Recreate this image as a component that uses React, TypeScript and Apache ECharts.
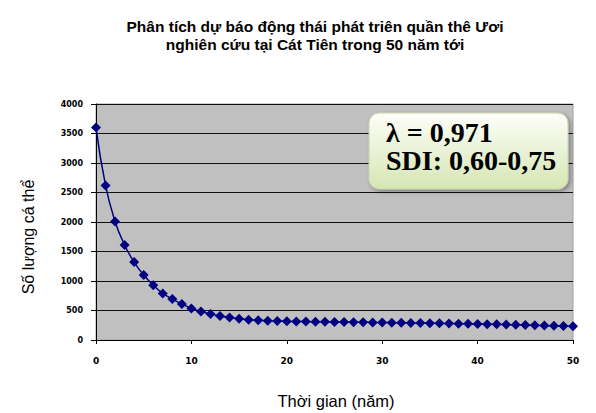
import React, { useEffect, useRef } from "react";
import * as echarts from "echarts";

const years: number[] = Array.from({ length: 51 }, (_, i) => i);
const population: number[] = [
  3600, 2620, 2010, 1610, 1320, 1100, 930, 790, 695, 610,
  535, 482, 440, 408, 380, 360, 345, 335, 327, 320,
  316, 314, 312, 310, 308, 306, 304, 302, 300, 298,
  296, 294, 292, 290, 288, 286, 283, 280, 277, 274,
  271, 268, 265, 261, 257, 253, 249, 245, 241, 237,
  233,
];
const titleLines: string[] = [
  "Phân tích dự báo động thái phát triên quần thê Ươi",
  "nghiên cứu tại Cát Tiên trong 50 năm tới",
];
const xAxisName = "Thời gian (năm)";
const yAxisName = "Số lượng cá thể";
const noteLines: string[] = ["λ = 0,971", "SDI: 0,60-0,75"];

export default function App() {
  const ref = useRef<HTMLDivElement>(null);
  useEffect(() => {
    if (!ref.current) return;
    const chart = echarts.init(ref.current, null, { renderer: "svg" });
    chart.setOption({
      animation: false,
      backgroundColor: "#ffffff",
      grid: {
        left: 96,
        right: 23,
        top: 104,
        bottom: 73,
        show: true,
        backgroundColor: "#c0c0c0",
        borderColor: "#a0a0a0",
        borderWidth: 1,
      },
      xAxis: {
        type: "value",
        min: 0,
        max: 50,
        interval: 10,
        axisLine: { show: true, onZero: false, lineStyle: { color: "#000", width: 1 } },
        axisTick: { show: true, length: 4, lineStyle: { color: "#000" } },
        splitLine: { show: false },
        axisLabel: {
          color: "#000",
          fontFamily: "DejaVu Sans",
          fontWeight: "bold",
          fontSize: 9,
          margin: 16,
        },
      },
      yAxis: {
        type: "value",
        min: 0,
        max: 4000,
        interval: 500,
        axisLine: { show: true, lineStyle: { color: "#000", width: 1 } },
        axisTick: { show: true, length: 5, lineStyle: { color: "#000" } },
        splitLine: { show: true, lineStyle: { color: "#111", width: 1.2 } },
        axisLabel: {
          color: "#000",
          fontFamily: "DejaVu Sans",
          fontWeight: "bold",
          fontSize: 8,
          margin: 13,
          formatter: (v: number) => String(v),
        },
      },
      series: [
        {
          type: "line",
          data: years.map((y, i) => [y, population[i]]),
          smooth: true,
          symbol: "diamond",
          symbolSize: 10,
          lineStyle: { color: "#000080", width: 1.5 },
          itemStyle: { color: "#000080" },
        },
      ],
      graphic: [
        {
          type: "text",
          x: 315,
          y: 17,
          style: {
            text: titleLines.join("\n"),
            align: "center",
            verticalAlign: "top",
            font: "bold 15.5px 'Liberation Sans', Arial, sans-serif",
            lineHeight: 18,
            fill: "#000",
          },
        },
        {
          type: "text",
          x: 336,
          y: 392,
          style: {
            text: xAxisName,
            align: "center",
            verticalAlign: "top",
            font: "16.5px 'Liberation Sans', Arial, sans-serif",
            fill: "#000",
          },
        },
        {
          type: "text",
          x: 28,
          y: 237,
          rotation: Math.PI / 2,
          style: {
            text: yAxisName,
            align: "center",
            verticalAlign: "middle",
            font: "16px 'Liberation Sans', Arial, sans-serif",
            fill: "#000",
          },
        },
        {
          type: "rect",
          shape: { x: 369, y: 113, width: 199, height: 76, r: 10 },
          style: {
            fill: new echarts.graphic.LinearGradient(0, 0, 0, 1, [
              { offset: 0, color: "#fdfef8" },
              { offset: 1, color: "#d6e6b4" },
            ]),
            stroke: "#c8d4b0",
            lineWidth: 1,
            shadowBlur: 4,
            shadowOffsetX: 2,
            shadowOffsetY: 2,
            shadowColor: "rgba(0,0,0,0.35)",
          },
          z: 10,
        },
        {
          type: "text",
          x: 386,
          y: 118,
          z: 11,
          style: {
            text: noteLines.join("\n"),
            verticalAlign: "top",
            font: "bold 28px 'Liberation Serif', 'Times New Roman', serif",
            lineHeight: 28,
            fill: "#000",
          },
        },
      ],
    });
    return () => chart.dispose();
  }, []);
  return (
    <div
      ref={ref}
      style={{ position: "absolute", left: 0, top: 0, width: 596, height: 413, background: "#fff" }}
    />
  );
}
